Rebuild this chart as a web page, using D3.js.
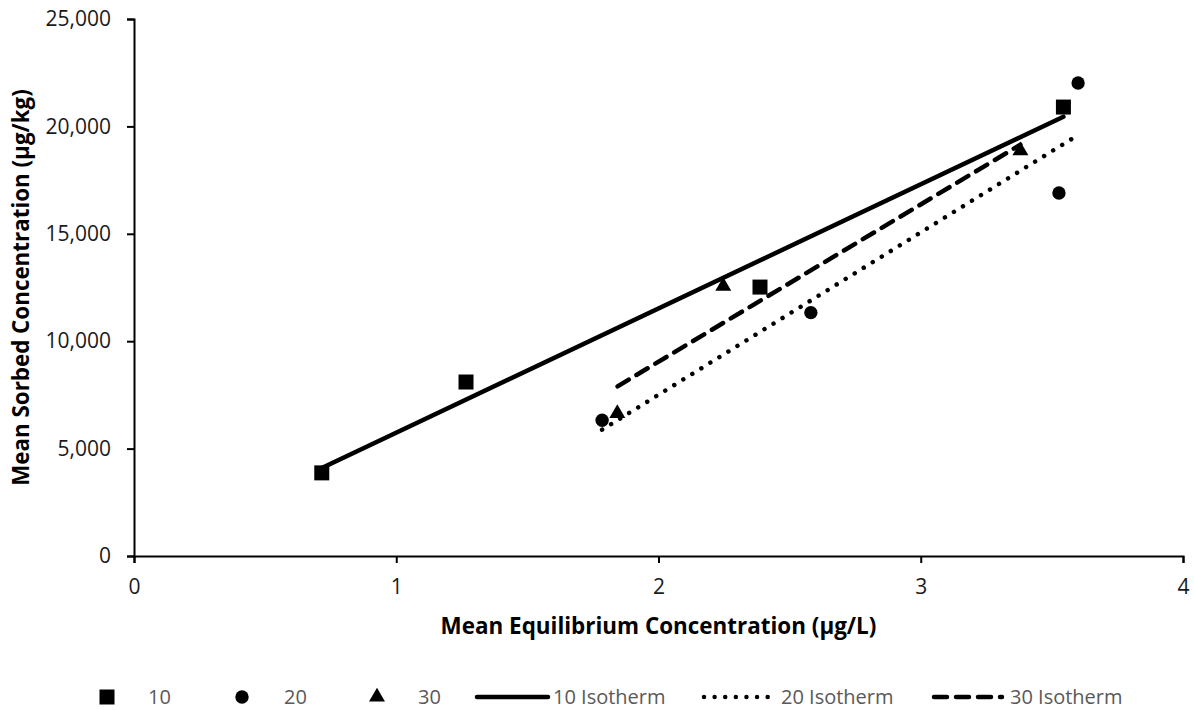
<!DOCTYPE html>
<html>
<head>
<meta charset="utf-8" />
<script src="https://d3js.org/d3.v7.min.js"></script>
<style>
  body { margin: 0; background: #fff; }
  text { font-family: "Open Sans", sans-serif; }
</style>
</head>
<body>
<svg id="chart"></svg>
<script>
// data
var x10 = [0.716, 1.266, 2.387, 3.544];
var y10 = [3870, 8100, 12520, 20900];
var x20 = [1.785, 2.581, 3.527, 3.600];
var y20 = [6320, 11330, 16900, 22020];
var x30 = [1.843, 2.247, 3.380];
var y30 = [6640, 12560, 18870];

// isotherm end points
var iso10x = [0.716, 3.544], iso10y = [4100, 20450];
var iso20x = [1.785, 3.600], iso20y = [5880, 19600];
var iso30x = [1.844, 3.380], iso30y = [7900, 19150];

var xTicks = [0, 1, 2, 3, 4];
var yTicks = [0, 5000, 10000, 15000, 20000, 25000];
var legendNames = ["10", "20", "30", "10 Isotherm", "20 Isotherm", "30 Isotherm"];

var width = 1195, height = 710;
var margin = {top: 19, right: 12, bottom: 154, left: 134};

var svg = d3.select("#chart").attr("width", width).attr("height", height);

var x = d3.scaleLinear().domain([0, 4]).range([margin.left, width - margin.right]);
var y = d3.scaleLinear().domain([0, 25000]).range([height - margin.bottom, margin.top]);

// axes
var xAxis = svg.append("g")
  .attr("transform", "translate(0," + y(0) + ")")
  .call(d3.axisBottom(x).tickValues(xTicks).tickSize(7).tickPadding(16).tickFormat(d3.format("d")));
var yAxis = svg.append("g")
  .attr("transform", "translate(" + x(0) + ",0)")
  .call(d3.axisLeft(y).tickValues(yTicks).tickSize(7).tickPadding(16).tickFormat(d3.format(",")));

[xAxis, yAxis].forEach(function(a) {
  a.select(".domain").attr("stroke", "#000").attr("stroke-width", 2);
  a.selectAll(".tick line").attr("stroke", "#000").attr("stroke-width", 2);
  a.selectAll(".tick text").attr("fill", "#1a1a1a").style("font-size", "21px").style("font-family", "Open Sans");
});

// axis titles, fitted to the width they take in the picture
function fit(t, w) {
  var len = t.node().getComputedTextLength();
  var fs = parseFloat(t.style("font-size"));
  t.style("font-size", (fs * w / len) + "px");
}
var xt = svg.append("text")
  .attr("x", (x(0) + x(4)) / 2).attr("y", 634)
  .attr("text-anchor", "middle").attr("font-weight", "bold")
  .style("font-size", "18px")
  .text("Mean Equilibrium Concentration (µg/L)");
fit(xt, 436);
var yt = svg.append("text")
  .attr("transform", "translate(29," + ((y(0) + y(25000)) / 2) + ") rotate(-90)")
  .attr("text-anchor", "middle").attr("font-weight", "bold")
  .style("font-size", "18px")
  .text("Mean Sorbed Concentration (µg/kg)");
fit(yt, 397);

// isotherm lines
var line = d3.line().x(function(d) { return x(d[0]); }).y(function(d) { return y(d[1]); });
var styles = [
  {dash: null},
  {dash: "0.01,10.6"},
  {dash: "13,9"}
];
var isoX = [iso10x, iso20x, iso30x], isoY = [iso10y, iso20y, iso30y];
isoX.forEach(function(xs, i) {
  var pts = xs.map(function(v, j) { return [v, isoY[i][j]]; });
  svg.append("path")
    .attr("d", line(pts))
    .attr("fill", "none")
    .attr("stroke", "#000")
    .attr("stroke-width", 4.5)
    .attr("stroke-linecap", "round")
    .attr("stroke-dasharray", styles[i].dash);
});

// markers
var symbols = [
  d3.symbol().type(d3.symbolSquare).size(225),
  d3.symbol().type(d3.symbolCircle).size(140),
  d3.symbol().type(d3.symbolTriangle).size(110)
];
var allX = [x10, x20, x30], allY = [y10, y20, y30];
allX.forEach(function(xs, i) {
  svg.append("g").selectAll("path")
    .data(xs)
    .enter().append("path")
    .attr("d", symbols[i])
    .attr("fill", "#000")
    .attr("transform", function(d, j) { return "translate(" + x(d) + "," + y(allY[i][j]) + ")"; });
});

// legend
var ly = 697;
var markerPos = [107, 242, 377];
var textPos = [148, 284, 418, 553, 781, 1010];
var linePos = [[477, 548], [704, 775], [934, 1002]];
markerPos.forEach(function(mx, i) {
  svg.append("path").attr("d", symbols[i]).attr("fill", "#000")
    .attr("transform", "translate(" + mx + "," + ly + ")");
});
linePos.forEach(function(p, i) {
  svg.append("line")
    .attr("x1", p[0]).attr("x2", p[1]).attr("y1", ly).attr("y2", ly)
    .attr("stroke", "#000").attr("stroke-width", 4.5)
    .attr("stroke-linecap", "round")
    .attr("stroke-dasharray", styles[i].dash);
});
legendNames.forEach(function(n, i) {
  svg.append("text")
    .attr("x", textPos[i]).attr("y", ly)
    .attr("dy", "0.35em")
    .attr("fill", "#595959")
    .style("font-size", "20px")
    .text(n);
});
</script>
</body>
</html>
